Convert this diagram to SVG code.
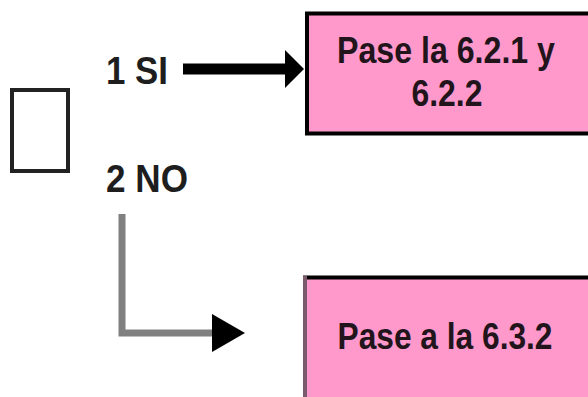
<svg xmlns="http://www.w3.org/2000/svg" width="588" height="397" viewBox="0 0 588 397">
  <style>
    .lbl { font-family: "Liberation Sans", Arial, sans-serif; font-weight: bold; font-size: 39px; fill: #1e1e1e; }
    .btxt { font-family: "Liberation Sans", Arial, sans-serif; font-weight: bold; font-size: 37px; fill: #22141b; text-anchor: middle; }
    .box { fill: #FF99CC; stroke: #000000; stroke-width: 4; }
  </style>
  <rect width="588" height="397" fill="#ffffff"/>
  <g id="checkbox">
    <rect x="12" y="90" width="56" height="81" fill="#ffffff" stroke="#222222" stroke-width="4"/>
  </g>
  <g id="opt-si">
    <text class="lbl" x="106" y="84" textLength="62" lengthAdjust="spacingAndGlyphs">1 SI</text>
  </g>
  <g id="opt-no">
    <text class="lbl" x="106" y="192" textLength="82" lengthAdjust="spacingAndGlyphs">2 NO</text>
  </g>
  <g id="box-621">
    <rect class="box" x="307" y="13.5" width="290" height="120"/>
    <text class="btxt" x="446" y="63" textLength="218" lengthAdjust="spacingAndGlyphs">Pase la 6.2.1 y</text>
    <text class="btxt" x="447" y="106" textLength="71" lengthAdjust="spacingAndGlyphs">6.2.2</text>
  </g>
  <g id="box-632">
    <rect class="box" x="305" y="277.5" width="292" height="130"/>
    <line x1="305" y1="276" x2="305" y2="397" stroke="#7a5a6c" stroke-width="4"/>
    <text class="btxt" x="445" y="349" textLength="215" lengthAdjust="spacingAndGlyphs">Pase a la 6.3.2</text>
  </g>
  <g id="connectors">
    <line x1="183" y1="69" x2="287" y2="69" stroke="#000000" stroke-width="11"/>
    <polygon points="285,50 304,69 285,88" fill="#000000"/>
    <polyline points="122,214 122,333 214,333" fill="none" stroke="#808080" stroke-width="7"/>
    <polygon points="212,314 245,333 212,352" fill="#000000"/>
  </g>
</svg>
